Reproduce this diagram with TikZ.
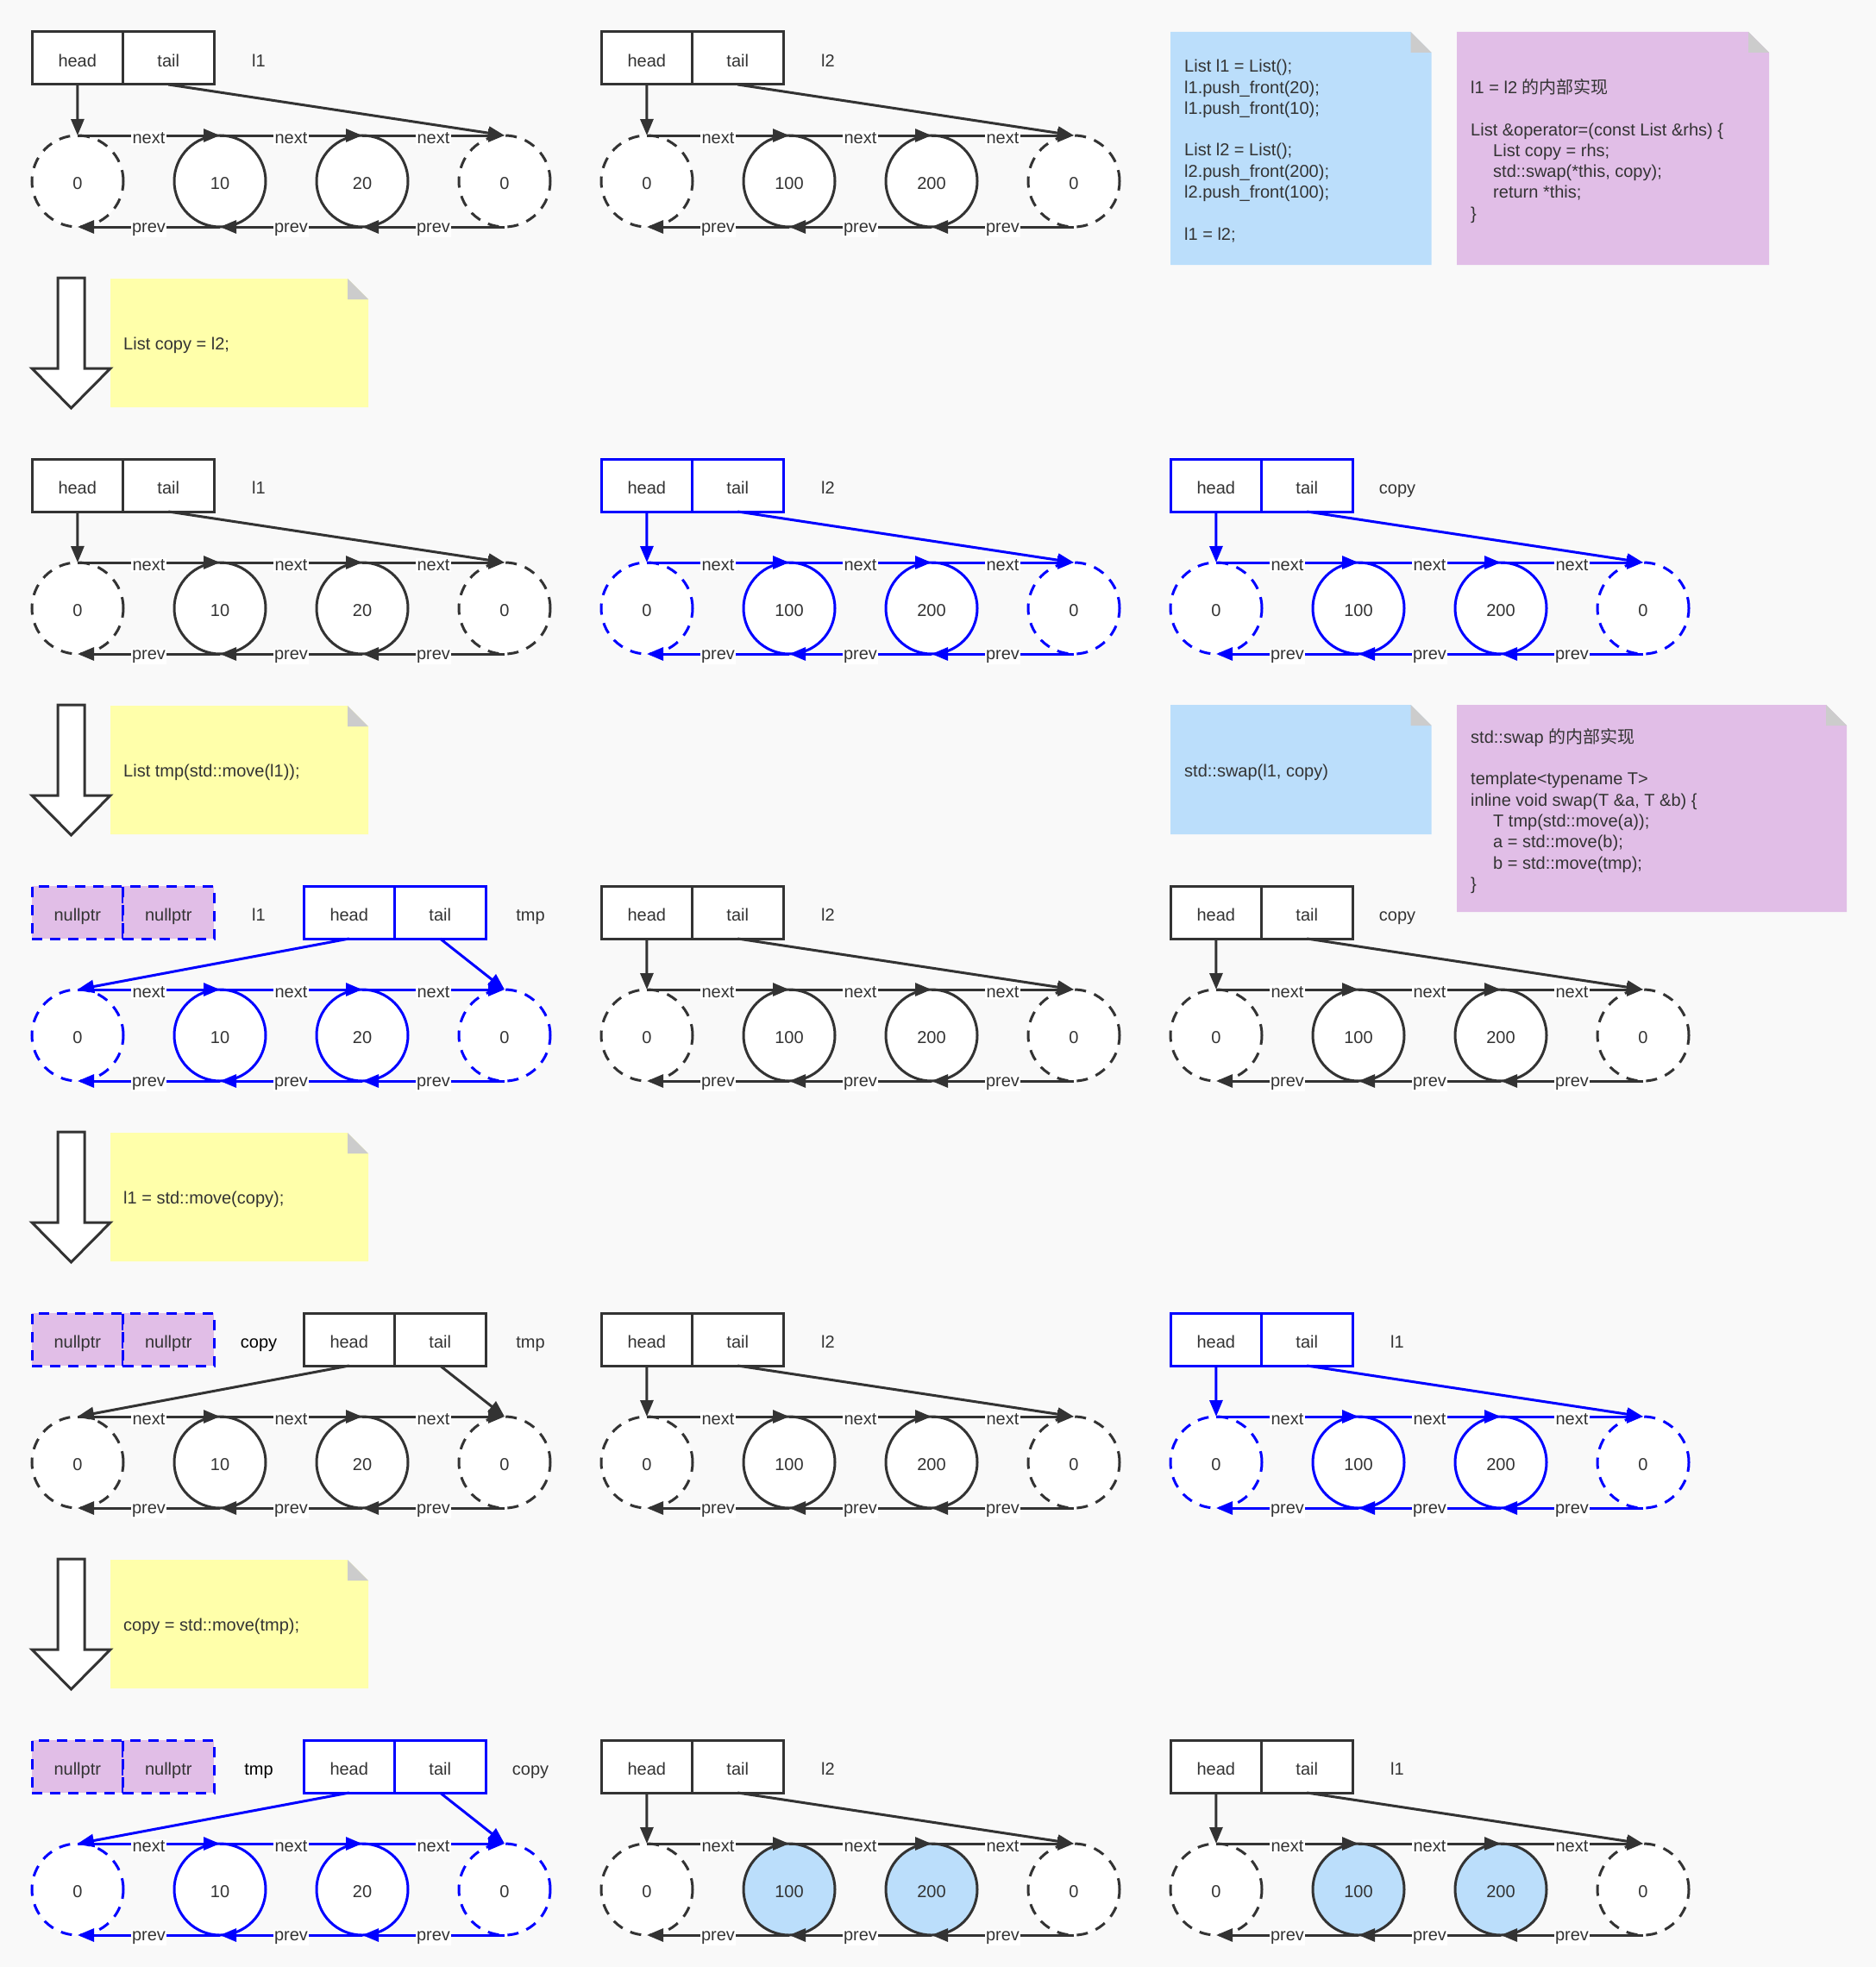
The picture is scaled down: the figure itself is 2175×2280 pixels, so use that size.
\documentclass[tikz,border=0pt]{standalone}
\usepackage{fontspec}
\setmainfont{Liberation Sans}
\newfontfamily\cjkfont{Noto Sans CJK SC}
\usetikzlibrary{arrows.meta}
\definecolor{ink}{HTML}{333333}
\definecolor{pblue}{HTML}{0000FF}
\definecolor{notebl}{HTML}{BBDEFB}
\definecolor{notepk}{HTML}{E1BEE7}
\definecolor{noteyl}{HTML}{FFFFAA}
\definecolor{foldgr}{HTML}{CCCCCC}
\definecolor{bgc}{HTML}{F9F9F9}
\newcommand{\tfont}{\fontsize{20}{24.3}\selectfont}
\tikzset{
  base/.style={line width=3pt, outer sep=0pt},
  cell/.style={base, draw, fill=white, minimum width=105.5pt, minimum height=61pt, inner sep=0pt, text=ink, font=\tfont, text height=19.5pt, text depth=0pt},
  nullcell/.style={cell, fill=notepk, draw=pblue, dash pattern=on 12pt off 9pt},
  ring/.style={base, circle, draw, fill=white, minimum size=106pt, inner sep=0pt, text=ink, font=\tfont, text height=19.5pt, text depth=0pt},
  sent/.style={dash pattern=on 13pt off 10pt},
  tag/.style={inner sep=0pt, font=\tfont, text height=19.5pt, text depth=0pt},
  lab/.style={fill=white, inner sep=1.5pt, text=ink, font=\tfont, yshift=-3pt},
  conn/.style={line width=3pt, -{Triangle[length=19pt,width=15pt]}},
  memo/.style={inner sep=0pt, anchor=west, align=left, text=ink, font=\tfont},
  bigarrow/.style={line width=3pt, draw=ink, fill=white, line join=miter},
}
% head/tail box: prefix, x, y, colour, label
\newcommand{\mkHT}[5]{%
  \node[cell,draw=#4] (#1h) at ({#2+52.75},{#3+30.5}) {head};
  \node[cell,draw=#4] (#1t) at ({#2+158.25},{#3+30.5}) {tail};
  \node[tag,text=ink] (#1n) at ({#2+263},{#3+30.5}) {#5};
}
% nullptr box: prefix, x, y, label
\newcommand{\mkNull}[4]{%
  \node[nullcell] (#1h) at ({#2+52.75},{#3+30.5}) {nullptr};
  \node[nullcell] (#1t) at ({#2+158.25},{#3+30.5}) {nullptr};
  \node[tag,text=ink] (#1n) at ({#2+263},{#3+30.5}) {#4};
}
% ring of nodes: prefix, x, y, colour, v1, v2, fill
\newcommand{\mkRing}[7]{%
  \node[ring,sent,draw=#4] (#1c0) at ({#2+53},{#3+173}) {0};
  \node[ring,draw=#4,fill=#7] (#1c1) at ({#2+218},{#3+173}) {#5};
  \node[ring,draw=#4,fill=#7] (#1c2) at ({#2+383},{#3+173}) {#6};
  \node[ring,sent,draw=#4] (#1c3) at ({#2+548},{#3+173}) {0};
}
% links: ring prefix, box prefix, box colour, ring colour
\newcommand{\mkLinks}[4]{%
  \draw[conn,color=#3] (#2h.south) -- (#1c0.north);
  \draw[conn,color=#3] (#2t.south) -- (#1c3.north);
  \draw[conn,color=#4] (#1c0.north) -- node[lab]{next} (#1c1.north);
  \draw[conn,color=#4] (#1c1.north) -- node[lab]{next} (#1c2.north);
  \draw[conn,color=#4] (#1c2.north) -- node[lab]{next} (#1c3.north);
  \draw[conn,color=#4] (#1c3.south) -- node[lab]{prev} (#1c2.south);
  \draw[conn,color=#4] (#1c2.south) -- node[lab]{prev} (#1c1.south);
  \draw[conn,color=#4] (#1c1.south) -- node[lab]{prev} (#1c0.south);
}
% note: x0, y0, x1, y1, colour
\newcommand{\mkNote}[5]{%
  \fill[#5] (#1,#2) -- ({#3-24},#2) -- (#3,{#2+24}) -- (#3,#4) -- (#1,#4) -- cycle;
  \fill[foldgr] ({#3-24},#2) -- ({#3-24},{#2+24}) -- (#3,{#2+24}) -- cycle;
}
% big down arrow: y top
\newcommand{\mkDown}[1]{%
  \draw[bigarrow] (67,{#1-1}) -- (98,{#1-1}) -- (98,{#1+104}) -- (128,{#1+104}) -- (82.5,{#1+150}) -- (37,{#1+104}) -- (67,{#1+104}) -- cycle;
}
\begin{document}
\begin{tikzpicture}[x=1pt,y=-1pt]
\fill[bgc] (0,0) rectangle (2175,2280);
\useasboundingbox (0,0) rectangle (2175,2280);

% ---------- notes ----------
\mkNote{1357}{37}{1659.5}{307}{notebl}
\node[memo] (n1) at (1373,175) {List l1 = List();\\ l1.push\_front(20);\\ l1.push\_front(10);\\[24.3pt] List l2 = List();\\ l2.push\_front(200);\\ l2.push\_front(100);\\[24.3pt] l1 = l2;};
\mkNote{1689}{37}{2051}{307}{notepk}
\node[memo] (n2) at (1705,175) {l1 = l2 {\cjkfont 的内部实现}\\[24.3pt] List \&operator=(const List \&rhs) \{\\ \hspace*{26pt}List copy = rhs;\\ \hspace*{26pt}std::swap(*this, copy);\\ \hspace*{26pt}return *this;\\ \}};
\mkNote{1357}{817}{1659.5}{967}{notebl}
\node[memo] (n3) at (1373,895) {std::swap(l1, copy)};
\mkNote{1689}{817}{2141}{1057}{notepk}
\node[memo] (n4) at (1705,940) {std::swap {\cjkfont 的内部实现}\\[24.3pt] template<typename T>\\ inline void swap(T \&a, T \&b) \{\\ \hspace*{26pt}T tmp(std::move(a));\\ \hspace*{26pt}a = std::move(b);\\ \hspace*{26pt}b = std::move(tmp);\\ \}};

\mkNote{128}{323}{427}{472}{noteyl}
\node[memo] (y1) at (143,400) {List copy = l2;};
\mkDown{323}
\mkNote{128}{818}{427}{967}{noteyl}
\node[memo] (y2) at (143,895) {List tmp(std::move(l1));};
\mkDown{818}
\mkNote{128}{1313}{427}{1462}{noteyl}
\node[memo] (y3) at (143,1390) {l1 = std::move(copy);};
\mkDown{1313}
\mkNote{128}{1808}{427}{1957}{noteyl}
\node[memo] (y4) at (143,1885) {copy = std::move(tmp);};
\mkDown{1808}

% ---------- row 1 ----------
\mkRing{a}{37}{37}{ink}{10}{20}{white}
\mkHT{a}{37}{37}{ink}{l1}
\mkLinks{a}{a}{ink}{ink}
\mkRing{b}{697}{37}{ink}{100}{200}{white}
\mkHT{b}{697}{37}{ink}{l2}
\mkLinks{b}{b}{ink}{ink}

% ---------- row 2 ----------
\mkRing{c}{37}{532}{ink}{10}{20}{white}
\mkHT{c}{37}{532}{ink}{l1}
\mkLinks{c}{c}{ink}{ink}
\mkRing{d}{697}{532}{pblue}{100}{200}{white}
\mkHT{d}{697}{532}{pblue}{l2}
\mkLinks{d}{d}{pblue}{pblue}
\mkRing{e}{1357}{532}{pblue}{100}{200}{white}
\mkHT{e}{1357}{532}{pblue}{copy}
\mkLinks{e}{e}{pblue}{pblue}

% ---------- row 3 ----------
\mkNull{f}{37}{1027}{l1}
\mkRing{g}{37}{1027}{pblue}{10}{20}{white}
\mkHT{g}{352}{1027}{pblue}{tmp}
\mkLinks{g}{g}{pblue}{pblue}
\mkRing{h}{697}{1027}{ink}{100}{200}{white}
\mkHT{h}{697}{1027}{ink}{l2}
\mkLinks{h}{h}{ink}{ink}
\mkRing{i}{1357}{1027}{ink}{100}{200}{white}
\mkHT{i}{1357}{1027}{ink}{copy}
\mkLinks{i}{i}{ink}{ink}

% ---------- row 4 ----------
\mkNull{j}{37}{1522}{\textcolor{black}{copy}}
\mkRing{k}{37}{1522}{ink}{10}{20}{white}
\mkHT{k}{352}{1522}{ink}{tmp}
\mkLinks{k}{k}{ink}{ink}
\mkRing{l}{697}{1522}{ink}{100}{200}{white}
\mkHT{l}{697}{1522}{ink}{l2}
\mkLinks{l}{l}{ink}{ink}
\mkRing{m}{1357}{1522}{pblue}{100}{200}{white}
\mkHT{m}{1357}{1522}{pblue}{l1}
\mkLinks{m}{m}{pblue}{pblue}

% ---------- row 5 ----------
\mkNull{o}{37}{2017}{\textcolor{black}{tmp}}
\mkRing{p}{37}{2017}{pblue}{10}{20}{white}
\mkHT{p}{352}{2017}{pblue}{copy}
\mkLinks{p}{p}{pblue}{pblue}
\mkRing{q}{697}{2017}{ink}{100}{200}{notebl}
\mkHT{q}{697}{2017}{ink}{l2}
\mkLinks{q}{q}{ink}{ink}
\mkRing{r}{1357}{2017}{ink}{100}{200}{notebl}
\mkHT{r}{1357}{2017}{ink}{l1}
\mkLinks{r}{r}{ink}{ink}
\end{tikzpicture}
\end{document}
